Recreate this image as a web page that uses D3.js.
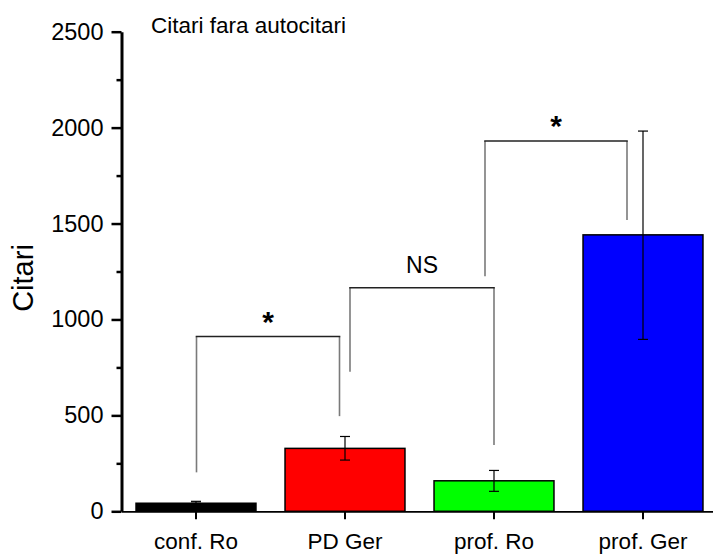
<!DOCTYPE html>
<html>
<head>
<meta charset="utf-8">
<script src="https://cdn.jsdelivr.net/npm/d3@7"></script>
<style>
  html, body { margin: 0; padding: 0; background: #fff; }
  svg { display: block; font-family: "Liberation Sans", Arial, sans-serif; }
</style>
</head>
<body>
<svg id="chart" width="713" height="554"></svg>
<script>
// ---- data ----
const categories = ["conf. Ro", "PD Ger", "prof. Ro", "prof. Ger"];
const means = [42, 328, 159, 1441];
const errLow = [42, 267, 104, 896];
const errHigh = [52, 390, 213, 1982];
const barColors = ["#000000", "#ff0000", "#00ff00", "#0000ff"];
const yTicks = [0, 500, 1000, 1500, 2000, 2500];
const yMinorTicks = [250, 750, 1250, 1750, 2250];
// significance brackets: left/right category, top value, left/right foot values, label
const bracketLeft = ["conf. Ro", "PD Ger", "prof. Ro"];
const bracketRight = ["PD Ger", "prof. Ro", "prof. Ger"];
const bracketTop = [911, 1165, 1930];
const bracketLeftFoot = [203, 727, 1225];
const bracketRightFoot = [496, 345, 1519];
const bracketLabels = ["*", "NS", "*"];
const titleText = "Citari fara autocitari";
const yTitle = "Citari";

// ---- layout ----
const svg = d3.select("#chart");
const x = d3.scaleBand().domain(categories).range([121.5, 717.5])
  .paddingInner(0.195).paddingOuter(0.0975);
const y = d3.scaleLinear().domain([0, 2500]).range([511.3, 31.7]);
const cx = c => x(c) + x.bandwidth() / 2;

// bars
svg.append("g").selectAll("rect").data(categories).join("rect")
  .attr("x", d => x(d))
  .attr("y", (d, i) => y(means[i]))
  .attr("width", x.bandwidth())
  .attr("height", (d, i) => y(0) - y(means[i]))
  .attr("fill", (d, i) => barColors[i])
  .attr("stroke", "#000")
  .attr("stroke-width", 1.5);

// error bars
const eb = svg.append("g").attr("stroke", "#000").attr("stroke-width", 1.2);
categories.forEach((c, i) => {
  const xc = cx(c);
  eb.append("line").attr("x1", xc).attr("x2", xc).attr("y1", y(errLow[i])).attr("y2", y(errHigh[i]));
  eb.append("line").attr("x1", xc - 5).attr("x2", xc + 5).attr("y1", y(errLow[i])).attr("y2", y(errLow[i]));
  eb.append("line").attr("x1", xc - 5).attr("x2", xc + 5).attr("y1", y(errHigh[i])).attr("y2", y(errHigh[i]));
});

// brackets
const leftOff = [0.5, 5, -9];
const rightOff = [-5.5, 0, -16];
const bg = svg.append("g");
bracketLabels.forEach((lab, i) => {
  const xl = cx(bracketLeft[i]) + leftOff[i];
  const xr = cx(bracketRight[i]) + rightOff[i];
  const yt = y(bracketTop[i]);
  bg.append("line").attr("x1", xl).attr("x2", xl).attr("y1", yt).attr("y2", y(bracketLeftFoot[i]))
    .attr("stroke", "#7a7a7a").attr("stroke-width", 1.6);
  bg.append("line").attr("x1", xr).attr("x2", xr).attr("y1", yt).attr("y2", y(bracketRightFoot[i]))
    .attr("stroke", "#7a7a7a").attr("stroke-width", 1.6);
  bg.append("line").attr("x1", xl - 0.8).attr("x2", xr + 0.8).attr("y1", yt).attr("y2", yt)
    .attr("stroke", "#222").attr("stroke-width", 1.4);
  const mid = (xl + xr) / 2;
  if (lab === "*") {
    bg.append("text").attr("x", mid).attr("y", yt - 5).attr("text-anchor", "middle")
      .attr("font-size", 30).attr("font-weight", "bold").attr("fill", "#000").text(lab);
  } else {
    bg.append("text").attr("x", mid).attr("y", yt - 14.5).attr("text-anchor", "middle")
      .attr("font-size", 23).attr("fill", "#000").text(lab);
  }
});

// y axis
const yAxis = svg.append("g").attr("transform", "translate(121.5,0)")
  .call(d3.axisLeft(y).tickValues(yTicks).tickFormat(d3.format("d")).tickSize(10).tickSizeOuter(0).tickPadding(8));
yAxis.select(".domain").attr("stroke-width", 3);
yAxis.selectAll(".tick line").attr("stroke-width", 2.5);
yAxis.selectAll(".tick text").attr("font-size", 23.5).attr("font-family", "Liberation Sans, Arial, sans-serif").attr("fill", "#000");
const yMinor = svg.append("g").attr("transform", "translate(121.5,0)")
  .call(d3.axisLeft(y).tickValues(yMinorTicks).tickSize(5).tickFormat(""));
yMinor.select(".domain").remove();
yMinor.selectAll(".tick line").attr("stroke-width", 2.5);

// x axis
const xAxis = svg.append("g").attr("transform", "translate(0,511.3)")
  .call(d3.axisBottom(x).tickSize(8).tickSizeOuter(0));
xAxis.select(".domain").attr("stroke-width", 1.8);
xAxis.selectAll(".tick line").attr("stroke-width", 2);
xAxis.selectAll(".tick text").attr("font-size", 22.5).attr("font-family", "Liberation Sans, Arial, sans-serif")
  .attr("fill", "#000").attr("y", 38).attr("dy", 0);

// titles
svg.append("text").attr("x", 151).attr("y", 33).attr("font-size", 22.5).attr("fill", "#000").text(titleText);
svg.append("text").attr("transform", "translate(33,278) rotate(-90)").attr("text-anchor", "middle")
  .attr("font-size", 29).attr("fill", "#000").text(yTitle);
</script>
</body>
</html>
